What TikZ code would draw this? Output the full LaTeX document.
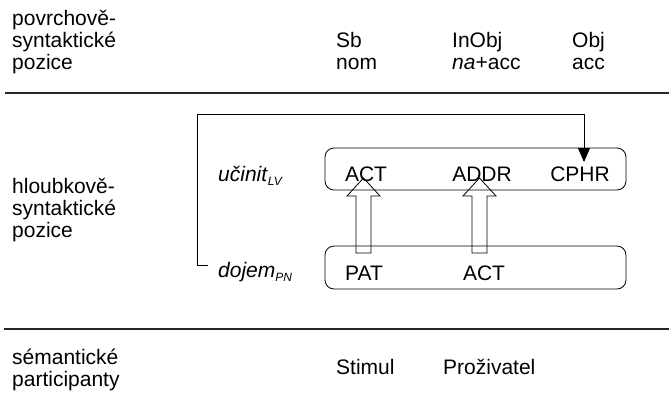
\documentclass[tikz,border=0pt]{standalone}
\usepackage{fontspec}
\setmainfont{Liberation Sans}
\usetikzlibrary{arrows.meta}
\tikzset{
  lbl/.style={anchor=base west, inner sep=0pt, font=\fontsize{21}{22}\selectfont, align=left},
  rule/.style={line width=2pt, black!85},
  role/.style={anchor=base, inner sep=0pt, font=\fontsize{21}{22}\selectfont},
  frame/.style={draw, line width=0.8pt, rounded corners=9pt},
  blockarrow/.style={draw, line width=0.8pt, line join=miter},
  link/.style={draw, line width=0.8pt}
}
\newcommand{\subsc}[1]{\raisebox{-0.45ex}{\fontsize{12}{12}\selectfont\itshape #1}}
\begin{document}
\begin{tikzpicture}[x=1pt,y=-1pt]
\useasboundingbox (0,0) rectangle (669,394);

% horizontal separators
\draw[rule] (5,93) -- (669,93);
\draw[rule] (4,329) -- (669,329);

% surface-syntactic row
\node[lbl] (surf1) at (12,25) {povrchově-};
\node[lbl] (surf2) at (12,47) {syntaktické};
\node[lbl] (surf3) at (12,69) {pozice};
\node[lbl] (sb)    at (336,47) {Sb};
\node[lbl] (nom)   at (336,69) {nom};
\node[lbl] (inobj) at (452,47) {InObj};
\node[lbl] (naacc) at (452,69) {\textit{na}+acc};
\node[lbl] (obj)   at (572,47) {Obj};
\node[lbl] (acc)   at (572,69) {acc};

% deep-syntactic row
\node[lbl] (deep1) at (12,193) {hloubkově-};
\node[lbl] (deep2) at (12,215) {syntaktické};
\node[lbl] (deep3) at (12,237) {pozice};

\node[lbl] (ucinit) at (218,181) {\textit{učinit}\subsc{LV}};
\node[lbl] (dojem)  at (218,277) {\textit{dojem}\subsc{PN}};

\draw[frame] (325,148) rectangle (626,190);
\draw[frame] (325,246) rectangle (626,289);

\node[role] (act1) at (366,181) {ACT};
\node[role] (addr) at (482,181) {ADDR};
\node[role] (cphr) at (580,181) {CPHR};
\node[role] (pat)  at (364,280) {PAT};
\node[role] (act2) at (484,280) {ACT};

% hollow block arrows
\draw[blockarrow] (356,253) -- (356,196) -- (347,196) -- (363.5,178) -- (380,196) -- (371,196) -- (371,253) -- cycle;
\draw[blockarrow] (472,253) -- (472,196) -- (463,196) -- (479.5,178) -- (496,196) -- (487,196) -- (487,253) -- cycle;

% bracket connector
\coordinate (c0) at (208,265);
\coordinate (tip) at (584,162);
\draw[link, -{Triangle[length=14pt,width=12pt]}] (c0) -- (197,265) |- (584,114) -- (tip);

% semantic row
\node[lbl] (sem1) at (12,364) {sémantické};
\node[lbl] (sem2) at (12,386) {participanty};
\node[lbl] (stim) at (336,374) {Stimul};
\node[lbl] (proz) at (443,374) {Proživatel};
\end{tikzpicture}
\end{document}
